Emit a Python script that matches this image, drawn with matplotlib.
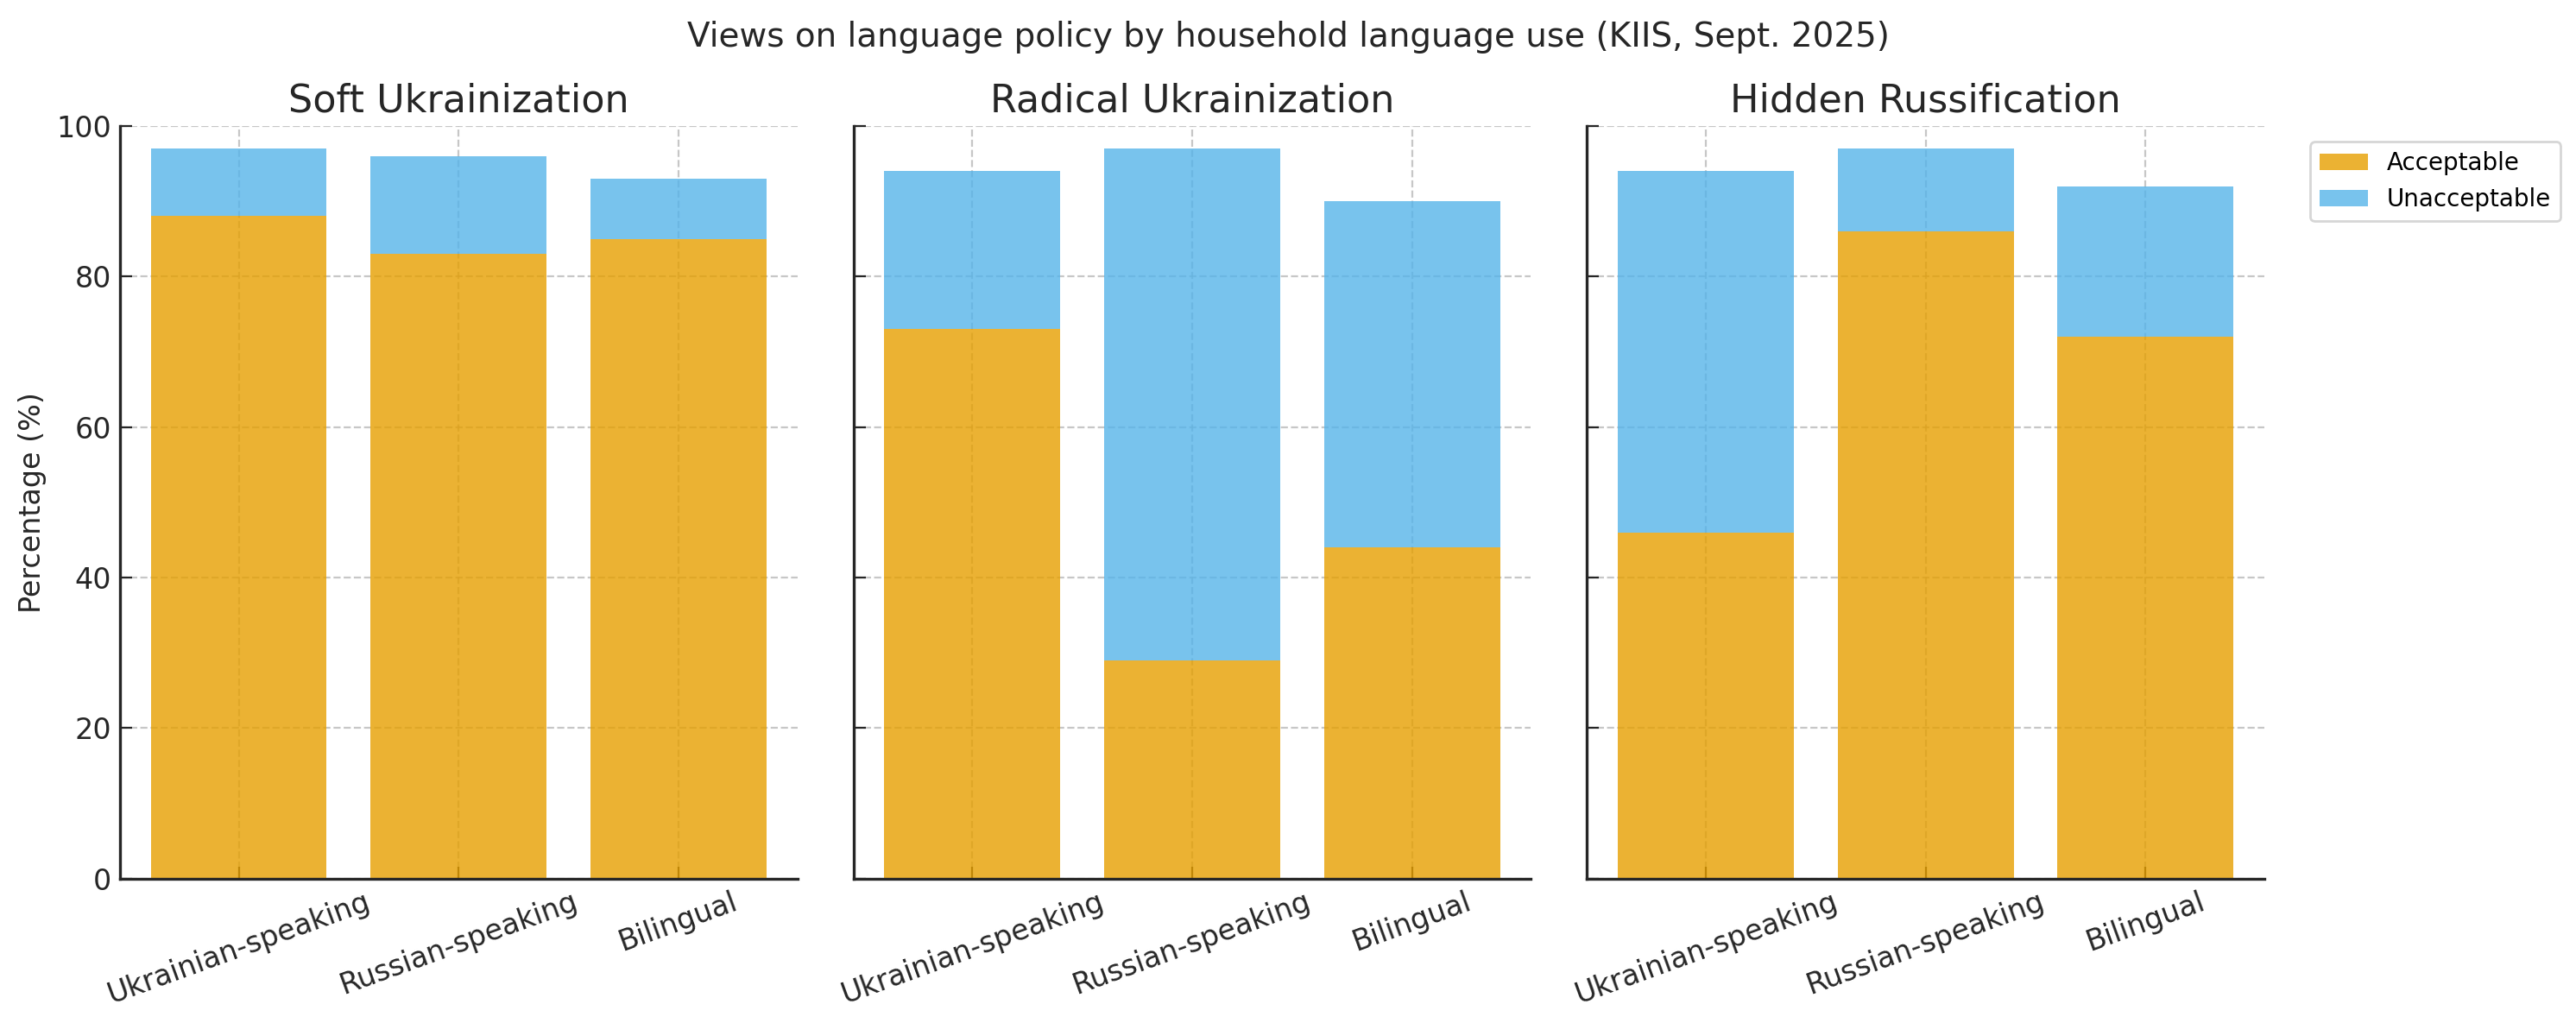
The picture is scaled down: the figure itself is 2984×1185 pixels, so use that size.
import matplotlib
matplotlib.use("Agg")
import matplotlib.pyplot as plt
import numpy as np

groups = ["Ukrainian-speaking", "Russian-speaking", "Bilingual"]
policies = ["Soft Ukrainization", "Radical Ukrainization", "Hidden Russification"]
acceptable = {
    "Soft Ukrainization": [88, 83, 85],
    "Radical Ukrainization": [73, 29, 44],
    "Hidden Russification": [46, 86, 72],
}
unacceptable = {
    "Soft Ukrainization": [9, 13, 8],
    "Radical Ukrainization": [21, 68, 46],
    "Hidden Russification": [48, 11, 20],
}
yticks = [0, 20, 40, 60, 80, 100]

plt.rcParams['font.family'] = ['DejaVu Sans']
fig, axes = plt.subplots(1, 3, figsize=(14.92, 5.925), dpi=200, sharey=True)
fig.subplots_adjust(left=0.0466, right=0.879, top=0.877, bottom=0.141, wspace=0.083)

c_acc = "#E69F00"
c_un = "#56B4E9"
x = np.arange(len(groups))
for ax, pol in zip(axes, policies):
    a = np.array(acceptable[pol])
    u = np.array(unacceptable[pol])
    ax.bar(x, a, color=c_acc, alpha=0.8, label="Acceptable", zorder=2, width=0.8)
    ax.bar(x, u, bottom=a, color=c_un, alpha=0.8, label="Unacceptable", zorder=2, width=0.8)
    ax.set_title(pol, fontsize=16, color="#262626")
    ax.set_xticks(x)
    ax.set_xticklabels(groups, rotation=20, fontsize=12, color="#262626")
    ax.set_ylim(0, 100)
    ax.set_yticks(yticks)
    ax.grid(True, linestyle="--", color="#b0b0b0", alpha=0.7, linewidth=0.8, zorder=0)
    ax.set_axisbelow(True)
    ax.spines['top'].set_visible(False)
    ax.spines['right'].set_visible(False)
    for s in ['left', 'bottom']:
        ax.spines[s].set_color("#262626")
        ax.spines[s].set_linewidth(1.2)
    ax.tick_params(direction='in', length=5, colors="#262626", labelsize=12)

axes[0].set_ylabel("Percentage (%)", fontsize=12, color="#262626")
axes[2].legend(loc="upper left", bbox_to_anchor=(1.05, 0.995), fontsize=10, frameon=True)
fig.suptitle("Views on language policy by household language use (KIIS, Sept. 2025)", fontsize=14, color="#262626", y=0.98)
fig.savefig("out.png", dpi=200)
